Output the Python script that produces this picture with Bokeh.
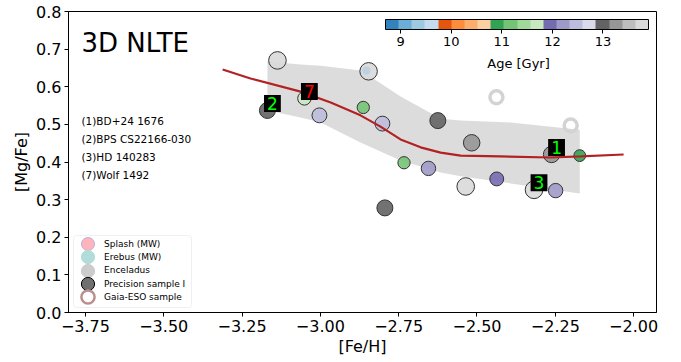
from bokeh.plotting import figure
from bokeh.models import (ColumnDataSource, LinearColorMapper, ColorBar, FixedTicker,
                          Label, Legend, LegendItem, Range1d, PrintfTickFormatter,
                          BoxAnnotation)
from bokeh.palettes import Category20c
from bokeh.transform import transform
from bokeh.embed import file_html
from bokeh.resources import INLINE

FONT = "DejaVu Sans"
NAN = float("nan")

# Precision sample I: [Fe/H], [Mg/Fe] (3D NLTE) and stellar age [Gyr]
feh = [-3.137, -3.169, -3.051, -3.003, -2.846, -2.863, -2.802, -2.625, -2.517,
       -2.733, -2.655, -2.536, -2.437, -2.794, -2.262, -2.172, -2.318, -2.249]
mgfe = [0.670, 0.537, 0.569, 0.524, 0.641, 0.545, 0.502, 0.510, 0.451,
        0.398, 0.383, 0.335, 0.355, 0.278, 0.420, 0.417, 0.326, 0.324]
age = [13.8, 13.0, 11.7, 12.45, 13.75, 11.15, 12.45, 13.0, 13.25,
       11.15, 12.2, 13.8, 11.95, 13.0, 13.2, 10.9, 13.8, 12.2]

# Erebus (MW) star
erebus_feh = [-2.853]
erebus_mgfe = [0.643]

# Gaia-ESO sample
ges_feh = [-2.438, -2.201]
ges_mgfe = [0.572, 0.497]

# Named stars (index into the precision sample)
star_id = ["1", "2", "3", "7"]
star_index = [14, 1, 16, 2]
star_name = ["BD+24 1676", "BPS CS22166-030", "HD 140283", "Wolf 1492"]
star_color = ["#00ff00", "#00ff00", "#00ff00", "#ff0000"]

# Running trend and its spread
trend_feh = [-3.312, -3.223, -3.063, -2.967, -2.872, -2.808, -2.744, -2.680,
             -2.616, -2.552, -2.425, -2.265, -2.169, -2.032]
trend_mgfe = [0.646, 0.622, 0.587, 0.558, 0.524, 0.494, 0.460, 0.439,
              0.425, 0.417, 0.415, 0.412, 0.415, 0.420]
band_feh = [-3.169, -3.063, -2.999, -2.872, -2.808, -2.744, -2.680, -2.616,
            -2.552, -2.393, -2.172]
band_hi = [0.667, 0.659, 0.656, 0.643, 0.609, 0.574, 0.545, 0.515, 0.510, 0.505, 0.486]
band_lo = [0.537, 0.518, 0.505, 0.452, 0.428, 0.404, 0.388, 0.372, 0.362, 0.343, 0.316]

xticks = [-3.75, -3.5, -3.25, -3.0, -2.75, -2.5, -2.25, -2.0]
yticks = [0.0, 0.1, 0.2, 0.3, 0.4, 0.5, 0.6, 0.7, 0.8]
age_ticks = [9, 10, 11, 12, 13]

# legend keys: label, fill, edge, edge width
legend_labels = ["Splash (MW)", "Erebus (MW)", "Enceladus", "Precision sample I",
                 "Gaia-ESO sample"]
legend_fill = ["#ffb3ba", "#b2dcd8", "#cccccc", "#707070", None]
legend_edge = ["#b8b8e0", "#b2dcd8", "#cccccc", "black", "#bc8f8f"]
legend_edge_width = [1, 1, 1, 1, 2.5]

p = figure(width=681, height=362,
           x_range=Range1d(-3.804, -1.927), y_range=Range1d(0.0, 0.8),
           output_backend="svg", toolbar_location=None,
           min_border_left=68, min_border_right=25,
           min_border_top=11, min_border_bottom=50)
p.grid.visible = False
p.outline_line_color = "black"
p.outline_line_alpha = 1.0
p.outline_line_width = 1

for ax in (p.xaxis[0], p.yaxis[0]):
    ax.axis_line_color = "black"
    ax.major_tick_line_color = "black"
    ax.major_tick_in = 0
    ax.major_tick_out = 4
    ax.minor_tick_line_color = None
    ax.major_label_text_font = FONT
    ax.major_label_text_font_size = "16px"
    ax.major_label_text_color = "black"
    ax.major_label_standoff = 3
    ax.axis_label_text_font = FONT
    ax.axis_label_text_font_size = "16px"
    ax.axis_label_text_font_style = "normal"
    ax.axis_label_text_color = "black"

p.xaxis.ticker = FixedTicker(ticks=xticks)
p.xaxis.major_label_overrides = {t: f"{t:.2f}".replace("-", "\u2212") for t in xticks}
p.xaxis.axis_label = "[Fe/H]"
p.xaxis.axis_label_standoff = 2
p.yaxis.ticker = FixedTicker(ticks=yticks)
p.yaxis.formatter = PrintfTickFormatter(format="%.1f")
p.yaxis.axis_label = "[Mg/Fe]"
p.yaxis.axis_label_standoff = 2

# spread of the trend
p.varea(x=band_feh, y1=band_lo, y2=band_hi, fill_color="#d3d3d3", fill_alpha=0.8)

# age-coloured precision sample
mapper = LinearColorMapper(palette=Category20c[20], low=8.7, high=13.9)
src = ColumnDataSource(dict(feh=feh, mgfe=mgfe, age=age,
                            size=[2.0 * a - 10.0 for a in age]))
p.scatter("feh", "mgfe", source=src, size="size", marker="circle",
          fill_color=transform("age", mapper), fill_alpha=0.9,
          line_color="#333333", line_width=1)

p.scatter(erebus_feh, erebus_mgfe, size=8, marker="circle",
          fill_color="#b8cfe2", fill_alpha=0.9, line_color=None)

p.scatter(ges_feh, ges_mgfe, size=13, marker="circle", fill_color=None,
          line_color="#d3d3d3", line_width=3.5)

p.line(trend_feh, trend_mgfe, line_color="#b22222", line_width=2.2)

# identifiers of the named stars
for sid, idx, col in zip(star_id, star_index, star_color):
    p.add_layout(Label(x=feh[idx], y=mgfe[idx], text=sid, x_offset=5, y_offset=7,
                       text_align="center", text_baseline="middle",
                       text_font=FONT, text_font_size="17px", text_color=col,
                       background_fill_color="black", background_fill_alpha=1.0,
                       padding=(3, 2)))

# panel title and star list
p.add_layout(Label(x=13, y=270, x_units="screen", y_units="screen", text="3D NLTE",
                   text_font=FONT, text_font_size="26px", text_color="black",
                   text_baseline="alphabetic"))
for i, (sid, name) in enumerate(zip(star_id, star_name)):
    p.add_layout(Label(x=13, y=192 - 18.2 * i, x_units="screen", y_units="screen",
                       text=f"({sid}){name}", text_font=FONT, text_font_size="10.5px",
                       text_color="black", text_baseline="middle"))

# age colour bar
cbar = ColorBar(color_mapper=mapper, orientation="horizontal", location="top_right",
                width=263, height=10, margin=0, padding=8,
                ticker=FixedTicker(ticks=age_ticks),
                major_label_text_font=FONT, major_label_text_font_size="13px",
                major_label_text_color="black",
                major_tick_in=0, major_tick_out=4, major_tick_line_color="black",
                minor_tick_line_color=None, bar_line_color="black", bar_line_width=1,
                label_standoff=3, background_fill_alpha=0.0)
p.add_layout(cbar)
p.add_layout(Label(x=450, y=249, x_units="screen", y_units="screen", text="Age [Gyr]",
                   text_font=FONT, text_font_size="13px", text_color="black",
                   text_align="center", text_baseline="middle"))

# legend frame, then one key per row
p.add_layout(BoxAnnotation(left=5, right=123, bottom=5, top=77,
                           left_units="screen", right_units="screen",
                           bottom_units="screen", top_units="screen",
                           fill_color="white", fill_alpha=0.8,
                           line_color="#cccccc", line_width=1, border_radius=3))
for i, (lab, fc, lc, lw) in enumerate(zip(legend_labels, legend_fill, legend_edge,
                                          legend_edge_width)):
    r = p.scatter([NAN], [NAN], marker="circle", fill_color=fc, line_color=lc,
                  line_width=lw)
    p.add_layout(Legend(items=[LegendItem(label=lab, renderers=[r])],
                        location=(3, 52 - 13.35 * i), glyph_width=33, glyph_height=33,
                        label_height=13, padding=0, margin=0, spacing=0,
                        label_standoff=0, label_text_font=FONT,
                        label_text_font_size="9px", label_text_color="black",
                        border_line_color=None, background_fill_alpha=0.0))

open("out.html", "w").write(file_html(p, INLINE))
